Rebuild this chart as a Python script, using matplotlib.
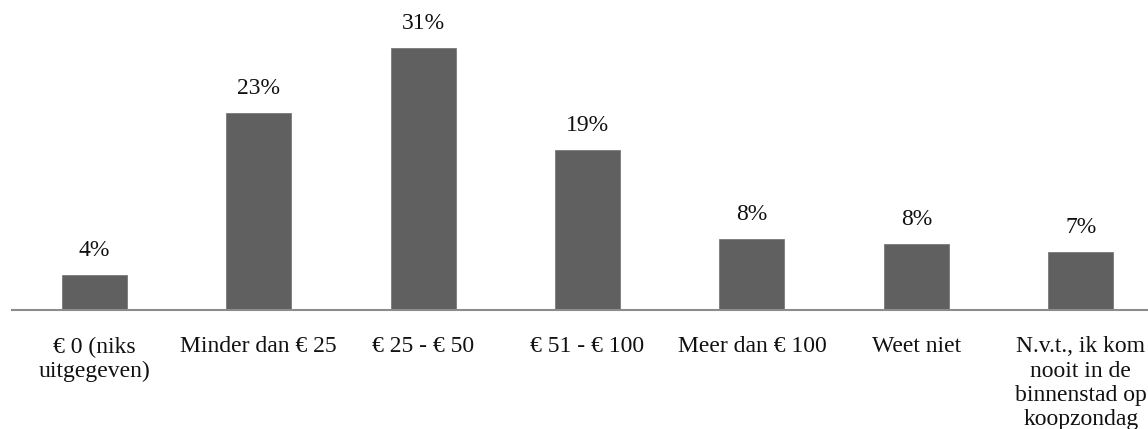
import matplotlib
matplotlib.use("Agg")
import matplotlib.pyplot as plt

categories = ["€ 0 (niks\nuitgegeven)", "Minder dan € 25", "€ 25 - € 50", "€ 51 - € 100",
              "Meer dan € 100", "Weet niet", "N.v.t., ik kom\nnooit in de\nbinnenstad op\nkoopzondag"]
values = [4.1, 23.3, 31.0, 18.9, 8.4, 7.8, 6.9]

plt.rcParams['font.family'] = ['Liberation Serif', 'DejaVu Serif']

fig = plt.figure(figsize=(11.48, 4.29), dpi=100)
# axes run a little past the right edge, like the cropped original
ax = fig.add_axes([12 / 1148, 1 - 310 / 429, 1151 / 1148, 310 / 429])

x = list(range(len(values)))
bars = ax.bar(x, values, width=0.395, color="#606060", edgecolor="#7a7a7a", linewidth=0.6)

for xi, v in zip(x, values):
    ax.annotate(f"{round(v)}%", (xi, v), xytext=(0, 10), textcoords="offset points",
                ha="center", va="bottom", fontsize=17, color="#111111")

ax.set_xlim(-0.5, len(values) - 0.5)
ax.set_ylim(0, 36.7)
ax.set_yticks([])
ax.set_xticks(x)
ax.set_xticklabels(categories, fontsize=17, color="#111111", linespacing=1.2)
ax.tick_params(axis="x", length=0, pad=19)
for s in ["top", "right", "left"]:
    ax.spines[s].set_visible(False)
ax.spines["bottom"].set_color("#8c8c8c")
ax.spines["bottom"].set_linewidth(1.5)

fig.savefig("out.png", dpi=100)
